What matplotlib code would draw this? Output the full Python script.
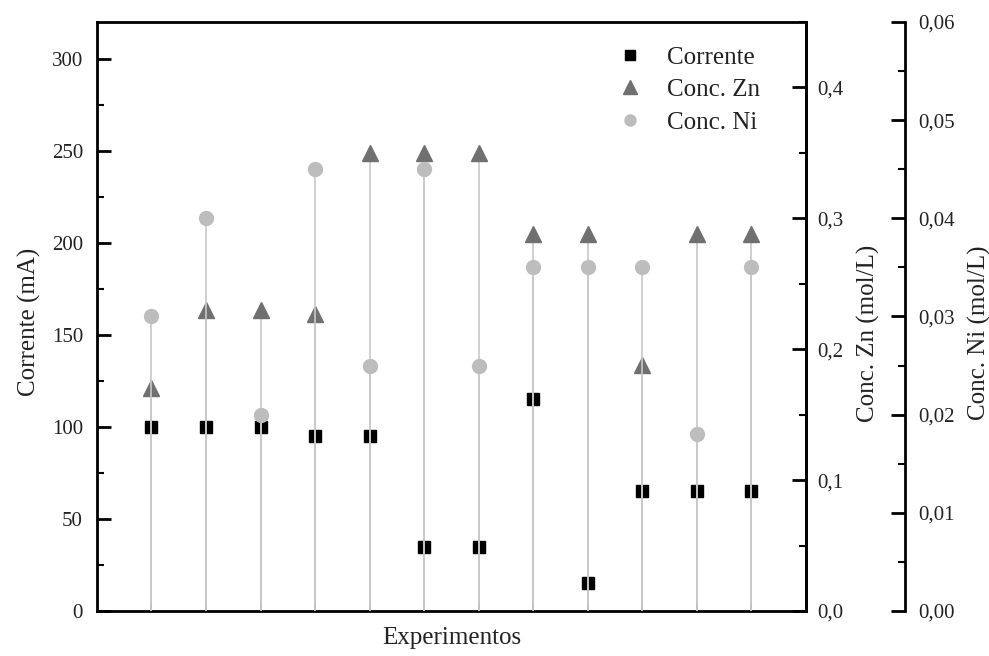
import matplotlib
matplotlib.use("Agg")
import matplotlib.pyplot as plt
from matplotlib.ticker import MultipleLocator, FuncFormatter
from matplotlib.lines import Line2D

plt.rcParams['font.family'] = ['Liberation Serif', 'DejaVu Serif']

# data
experimentos = list(range(1, 13))
corrente = [100, 100, 100, 95, 95, 35, 35, 115, 15, 65, 65, 65]          # mA
conc_zn = [0.17, 0.23, 0.23, 0.227, 0.35, 0.35, 0.35, 0.288, 0.288, 0.188, 0.288, 0.288]  # mol/L
conc_ni = [0.030, 0.040, 0.020, 0.045, 0.025, 0.045, 0.025, 0.035, 0.035, 0.035, 0.018, 0.035]  # mol/L

text_col = "#222222"
drop_col = "#c8c8c8"
zn_col = "#707070"
ni_col = "#bdbdbd"


def comma_fmt(decimals):
    return FuncFormatter(lambda v, p: f"{v:.{decimals}f}".replace(".", ","))


fig = plt.figure(figsize=(9.89, 6.56), dpi=100)
ax = fig.add_axes([0.098, 0.0686, 0.717, 0.898])
ax_zn = ax.twinx()
ax_ni = ax.twinx()

# Corrente (left axis)
ax.vlines(experimentos, 0, corrente, color=drop_col, lw=1.2, zorder=1)
ax.plot(experimentos, corrente, ls="none", marker="s", ms=8, color="black", zorder=3)
ax.set_xlim(0, 13)
ax.set_ylim(0, 320)
ax.yaxis.set_major_locator(MultipleLocator(50))
ax.yaxis.set_minor_locator(MultipleLocator(25))
ax.set_xticks(experimentos)
ax.set_xticklabels([])
ax.tick_params(axis="y", which="major", direction="in", length=10, width=2, colors="black",
               labelcolor=text_col, labelsize=15, pad=10)
ax.tick_params(axis="y", which="minor", direction="in", length=5, width=1.5)
ax.tick_params(axis="x", direction="in", length=6, width=1.2, top=False)
ax.set_ylabel("Corrente (mA)", fontsize=18, color=text_col, labelpad=8)
ax.yaxis.label.set_y(0.49)
ax.set_xlabel("Experimentos", fontsize=18, color=text_col, labelpad=8)
for s in ax.spines.values():
    s.set_linewidth(2)

# Conc. Zn (first right axis)
ax_zn.vlines(experimentos, 0, conc_zn, color=drop_col, lw=1.2, zorder=1)
ax_zn.plot(experimentos, conc_zn, ls="none", marker="^", ms=11, color=zn_col, zorder=3)
ax_zn.set_ylim(0, 0.45)
ax_zn.yaxis.set_major_locator(MultipleLocator(0.1))
ax_zn.yaxis.set_minor_locator(MultipleLocator(0.05))
ax_zn.yaxis.set_major_formatter(comma_fmt(1))
ax_zn.tick_params(axis="y", which="major", direction="in", length=10, width=2,
                  labelcolor=text_col, labelsize=15, pad=8)
ax_zn.tick_params(axis="y", which="minor", direction="in", length=5, width=1.5)
ax_zn.set_ylabel("Conc. Zn (mol/L)", fontsize=18, color=text_col)
ax_zn.yaxis.set_label_coords(1.072, 0.472)
ax_zn.spines["right"].set_linewidth(2)

# Conc. Ni (second right axis)
ax_ni.spines["right"].set_position(("axes", 1.14))
for side in ("top", "bottom", "left"):
    ax_ni.spines[side].set_visible(False)
ax_ni.spines["right"].set_linewidth(2)
ax_ni.vlines(experimentos, 0, conc_ni, color=drop_col, lw=1.2, zorder=1)
ax_ni.plot(experimentos, conc_ni, ls="none", marker="o", ms=10, color=ni_col, zorder=3)
ax_ni.set_ylim(0, 0.06)
ax_ni.yaxis.set_major_locator(MultipleLocator(0.01))
ax_ni.yaxis.set_minor_locator(MultipleLocator(0.005))
ax_ni.yaxis.set_major_formatter(comma_fmt(2))
ax_ni.tick_params(axis="y", which="major", direction="in", length=10, width=2,
                  labelcolor=text_col, labelsize=15, pad=9)
ax_ni.tick_params(axis="y", which="minor", direction="in", length=5, width=1.5)
ax_ni.set_ylabel("Conc. Ni (mol/L)", fontsize=18, color=text_col)
ax_ni.yaxis.set_label_coords(1.228, 0.472)

handles = [
    Line2D([], [], ls="none", marker="s", ms=7, color="black"),
    Line2D([], [], ls="none", marker="^", ms=10, color=zn_col),
    Line2D([], [], ls="none", marker="o", ms=8, color=ni_col),
]
leg = ax_ni.legend(handles, ["Corrente", "Conc. Zn", "Conc. Ni"], loc="upper right",
                   bbox_to_anchor=(0.967, 0.997), frameon=False, fontsize=18,
                   labelspacing=0.4, handlelength=1.0, handletextpad=1.0, borderpad=0.4)
for t in leg.get_texts():
    t.set_color(text_col)

fig.savefig("out.png", dpi=100)
